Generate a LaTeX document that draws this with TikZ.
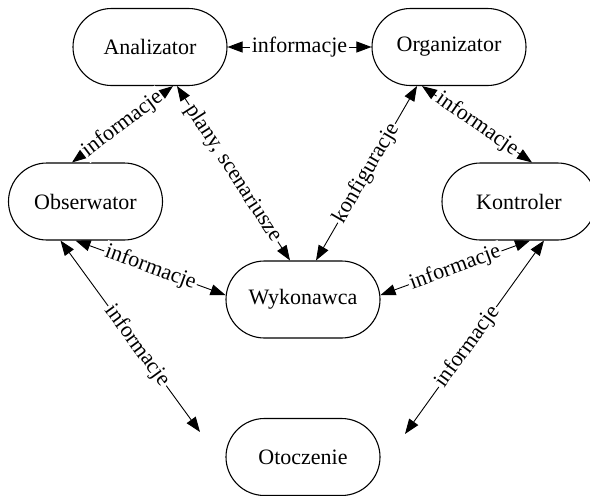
\documentclass[tikz,border=0pt]{standalone}
\usepackage{fontspec}
\setmainfont{Liberation Serif}
\usetikzlibrary{shapes.misc,arrows.meta}
\tikzset{
	stan/.style = {rounded rectangle, draw, line width=1.1pt, minimum width=154pt, minimum height=77pt, inner sep=0pt},
	info/.style = {{Triangle[length=15pt,width=11pt]}-{Triangle[length=15pt,width=11pt]}, line width=0.9pt},
	opis/.style = {fill=white, sloped, inner sep=1.5pt}
}
\begin{document}
\begin{tikzpicture}[x=1pt,y=-1pt,font=\fontsize{22}{25}\selectfont]
	\useasboundingbox (0,0) rectangle (590,496);
	\node[stan] (anal) at (150,47) {Analizator};
	\node[stan] (org) at (449,47) {Organizator};
	\node[stan] (obs) at (85.5,201.5) {Obserwator};
	\node[stan] (kon) at (519,201.5) {Kontroler};
	\node[stan] (wyk) at (303,299.5) {Wykonawca};
	\node[stan] (oto) at (303,457) {Otoczenie};
	\coordinate (otl) at (200,432);
	\coordinate (otr) at (405,434);
	\draw[info] (anal.east) -- node[opis] {informacje} (org.west);
	\draw[info] ([xshift=23pt]anal.south) -- node[opis] {informacje} ([xshift=-13.5pt]obs.north);
	\draw[info] ([xshift=27pt]anal.south) -- node[opis] {plany, scenariusze} ([xshift=-13pt]wyk.north);
	\draw[info] ([xshift=-32pt]org.south) -- node[opis] {konfiguracje} ([xshift=13pt]wyk.north);
	\draw[info] ([xshift=-27pt]org.south) -- node[opis] {informacje} ([xshift=13pt]kon.north);
	\draw[info] ([xshift=-10pt]obs.south) -- node[opis] {informacje} ([yshift=4.5pt]wyk.west);
	\draw[info] ([xshift=11pt]kon.south) -- node[opis] {informacje} ([yshift=4.5pt]wyk.east);
	\draw[info] ([xshift=-25pt]obs.south) -- node[opis,pos=0.55] {informacje} (otl);
	\draw[info] ([xshift=25pt]kon.south) -- node[opis,pos=0.55] {informacje} (otr);
\end{tikzpicture}
\end{document}
